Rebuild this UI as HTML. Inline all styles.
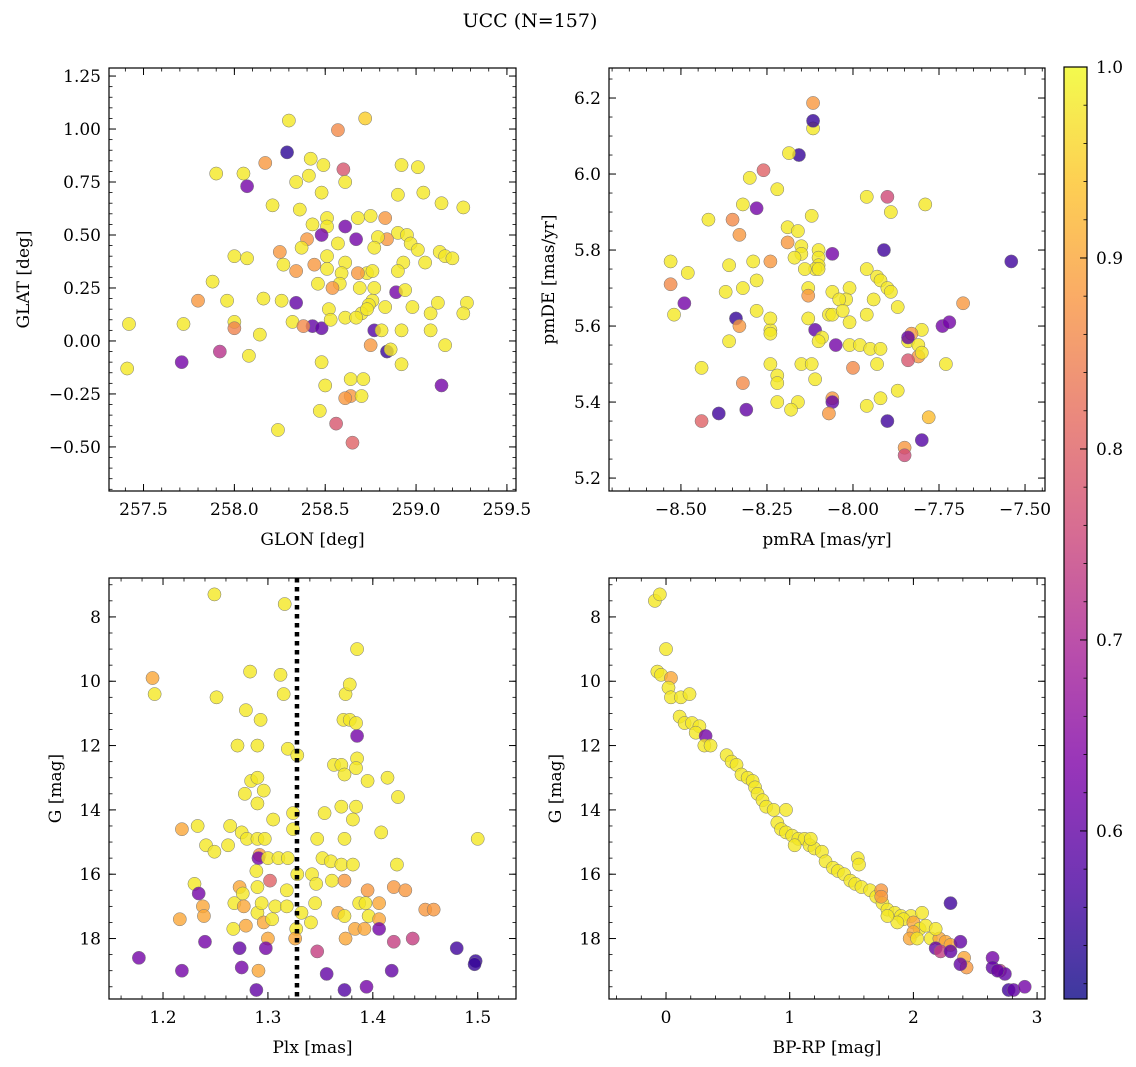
<!DOCTYPE html>
<html><head><meta charset="utf-8">
<style>
html,body{margin:0;padding:0;background:#fff;}
svg{display:block;font-family:"DejaVu Serif","Liberation Serif",serif;}
</style></head>
<body>
<svg id="fig" width="1136" height="1067" xmlns="http://www.w3.org/2000/svg">
<text x="530" y="27" text-anchor="middle" font-size="19">UCC (N=157)</text>
<defs>
<linearGradient id="plasma" x1="0" y1="1" x2="0" y2="0">
<stop offset="0" stop-color="#0d0887"/><stop offset="0.125" stop-color="#4c02a1"/><stop offset="0.25" stop-color="#7e03a8"/><stop offset="0.375" stop-color="#a82296"/><stop offset="0.5" stop-color="#cc4778"/><stop offset="0.625" stop-color="#e56b5d"/><stop offset="0.75" stop-color="#f89540"/><stop offset="0.875" stop-color="#fdc328"/><stop offset="1" stop-color="#f0f921"/>
</linearGradient>
</defs>
</svg>
<script>
// ---------- Panel 1: GLON / GLAT ----------
const p1Lon=[258.30,258.57,258.72,258.29,257.90,258.05,258.07,258.17,258.34,258.41,258.42,258.49,258.60,258.48,258.61,258.92,259.01,258.21,258.36,258.51,258.43,258.51,258.61,258.68,258.75,258.83,258.90,259.04,259.14,259.26,258.90,258.95,258.97,259.01,258.84,258.79,258.77,258.67,258.57,258.48,258.40,258.37,258.51,258.51,258.61,258.59,258.44,258.27,258.25,258.00,258.07,258.34,259.05,259.13,259.16,259.20,258.93,258.90,258.73,258.76,258.68,258.58,258.54,258.46,257.88,257.96,258.16,258.26,258.34,258.69,258.77,258.76,258.74,258.70,258.83,258.89,258.94,258.98,259.08,259.12,259.28,259.26,257.42,257.72,257.80,258.00,258.00,258.14,258.32,258.43,258.48,258.38,258.52,258.53,258.61,258.67,258.73,258.77,258.81,258.92,259.08,259.16,258.75,258.84,258.86,257.71,257.92,258.08,257.41,258.48,258.50,258.64,258.71,258.92,259.14,258.64,258.61,258.70,258.47,258.56,258.24,258.65];
const p1Lat=[1.04,0.995,1.05,0.89,0.79,0.79,0.73,0.84,0.75,0.78,0.86,0.83,0.81,0.70,0.75,0.83,0.82,0.64,0.62,0.58,0.55,0.54,0.54,0.58,0.59,0.58,0.69,0.70,0.65,0.63,0.51,0.50,0.46,0.43,0.48,0.49,0.44,0.48,0.46,0.50,0.48,0.44,0.40,0.34,0.37,0.32,0.36,0.36,0.42,0.40,0.39,0.33,0.37,0.42,0.40,0.39,0.37,0.33,0.32,0.33,0.32,0.27,0.25,0.27,0.28,0.19,0.20,0.19,0.18,0.25,0.25,0.19,0.17,0.13,0.16,0.23,0.24,0.16,0.13,0.18,0.18,0.13,0.08,0.08,0.19,0.09,0.06,0.03,0.09,0.07,0.06,0.07,0.15,0.10,0.11,0.11,0.15,0.05,0.05,0.05,0.05,-0.02,-0.02,-0.05,-0.04,-0.10,-0.05,-0.07,-0.13,-0.10,-0.21,-0.18,-0.18,-0.11,-0.21,-0.26,-0.27,-0.26,-0.33,-0.39,-0.42,-0.48];
const p1Prob=[0.98,0.86,0.95,0.54,0.98,0.98,0.62,0.88,0.98,0.98,0.98,0.98,0.78,0.98,0.98,0.98,0.98,0.98,0.98,0.98,0.98,0.98,0.62,0.98,0.98,0.88,0.98,0.98,0.98,0.98,0.98,0.98,0.98,0.98,0.88,0.98,0.98,0.62,0.98,0.62,0.88,0.98,0.98,0.98,0.98,0.98,0.88,0.98,0.88,0.98,0.98,0.88,0.98,0.98,0.98,0.98,0.98,0.98,0.98,0.98,0.88,0.98,0.88,0.98,0.98,0.98,0.98,0.98,0.6,0.98,0.98,0.98,0.98,0.98,0.98,0.62,0.98,0.98,0.98,0.98,0.98,0.98,0.98,0.98,0.88,0.98,0.85,0.98,0.98,0.6,0.6,0.86,0.98,0.98,0.98,0.98,0.98,0.58,0.98,0.98,0.98,0.98,0.88,0.55,0.98,0.62,0.72,0.98,0.98,0.98,0.98,0.98,0.98,0.98,0.62,0.88,0.88,0.98,0.98,0.78,0.98,0.8];
// ---------- Panel 2: pmRA / pmDE ----------
const p2RA=[-8.116,-8.116,-8.116,-8.157,-8.186,-8.26,-8.30,-8.28,-8.32,-8.22,-7.96,-7.90,-7.89,-7.79,-8.42,-8.35,-8.12,-8.19,-8.16,-8.33,-8.19,-8.15,-8.15,-8.10,-8.10,-8.06,-8.10,-8.11,-8.10,-8.14,-8.24,-8.17,-7.91,-8.29,-8.36,-8.48,-8.53,-8.53,-8.32,-8.28,-8.13,-8.06,-8.01,-7.96,-7.93,-7.92,-7.90,-7.89,-7.68,-8.02,-8.04,-8.13,-8.37,-8.28,-8.49,-8.52,-8.34,-8.33,-8.24,-8.24,-8.13,-8.11,-8.09,-8.10,-8.07,-8.06,-8.03,-8.01,-7.96,-7.94,-7.87,-7.84,-7.80,-7.83,-7.81,-7.81,-7.84,-7.80,-7.84,-7.74,-7.72,-7.73,-7.54,-8.36,-8.24,-8.24,-8.22,-8.22,-8.15,-8.12,-8.11,-8.05,-8.01,-7.98,-8.00,-7.95,-7.92,-7.93,-8.44,-8.32,-8.22,-8.16,-8.18,-8.06,-8.06,-8.07,-7.96,-7.92,-7.87,-7.78,-7.90,-8.31,-8.39,-8.44,-7.85,-7.85,-7.80];
const p2DE=[6.187,6.12,6.14,6.05,6.055,6.01,5.99,5.91,5.92,5.96,5.94,5.94,5.90,5.92,5.88,5.88,5.89,5.86,5.85,5.84,5.82,5.81,5.79,5.80,5.78,5.79,5.76,5.75,5.75,5.75,5.77,5.78,5.80,5.77,5.76,5.74,5.77,5.71,5.70,5.72,5.70,5.69,5.70,5.75,5.73,5.72,5.70,5.69,5.66,5.67,5.67,5.68,5.69,5.64,5.66,5.63,5.62,5.60,5.59,5.62,5.62,5.59,5.57,5.56,5.63,5.63,5.64,5.61,5.63,5.67,5.65,5.56,5.59,5.58,5.55,5.52,5.51,5.53,5.57,5.60,5.61,5.50,5.77,5.56,5.58,5.50,5.47,5.45,5.50,5.50,5.46,5.55,5.55,5.55,5.49,5.54,5.54,5.50,5.49,5.45,5.40,5.40,5.38,5.41,5.40,5.37,5.39,5.41,5.43,5.36,5.35,5.38,5.37,5.35,5.28,5.26,5.30];
const p2Prob=[0.88,0.98,0.55,0.55,0.98,0.8,0.98,0.62,0.98,0.98,0.98,0.76,0.98,0.98,0.98,0.86,0.98,0.98,0.98,0.88,0.88,0.98,0.98,0.98,0.98,0.62,0.98,0.98,0.98,0.98,0.88,0.98,0.56,0.98,0.98,0.98,0.98,0.86,0.98,0.98,0.98,0.98,0.98,0.98,0.98,0.98,0.98,0.98,0.88,0.98,0.98,0.88,0.98,0.98,0.62,0.98,0.55,0.88,0.98,0.98,0.98,0.6,0.98,0.98,0.98,0.98,0.98,0.98,0.98,0.98,0.98,0.98,0.98,0.88,0.98,0.88,0.78,0.98,0.6,0.62,0.62,0.98,0.56,0.98,0.98,0.98,0.98,0.98,0.98,0.98,0.98,0.62,0.98,0.98,0.86,0.98,0.98,0.98,0.98,0.86,0.98,0.98,0.98,0.88,0.6,0.88,0.98,0.98,0.98,0.93,0.56,0.6,0.56,0.8,0.88,0.76,0.58];
// ---------- Panel 3: Plx / G ----------
const p3Plx=[1.249,1.316,1.385,1.190,1.192,1.251,1.283,1.312,1.315,1.374,1.378,1.279,1.293,1.372,1.378,1.385,1.384,1.271,1.290,1.319,1.328,1.363,1.370,1.385,1.384,1.414,1.395,1.373,1.284,1.290,1.296,1.278,1.305,1.290,1.324,1.370,1.384,1.354,1.381,1.424,1.264,1.218,1.233,1.275,1.280,1.290,1.297,1.324,1.347,1.373,1.408,1.500,1.241,1.249,1.262,1.292,1.291,1.300,1.310,1.319,1.352,1.360,1.370,1.381,1.423,1.289,1.302,1.328,1.342,1.361,1.373,1.346,1.230,1.290,1.273,1.318,1.395,1.420,1.431,1.234,1.276,1.238,1.239,1.268,1.277,1.290,1.294,1.307,1.318,1.332,1.345,1.367,1.387,1.393,1.396,1.406,1.406,1.216,1.267,1.279,1.296,1.304,1.327,1.326,1.341,1.373,1.383,1.392,1.374,1.300,1.240,1.273,1.298,1.347,1.406,1.420,1.438,1.450,1.458,1.480,1.498,1.497,1.177,1.218,1.275,1.291,1.356,1.418,1.289,1.373,1.394];
const p3G=[7.3,7.6,9.0,9.9,10.4,10.5,9.7,9.8,10.4,10.4,10.1,10.9,11.2,11.2,11.2,11.7,11.3,12.0,12.0,12.1,12.3,12.6,12.6,12.4,12.7,13.0,13.1,12.9,13.1,13.0,13.4,13.5,14.3,13.8,14.1,13.9,13.9,14.1,14.3,13.6,14.5,14.6,14.5,14.7,14.9,14.9,14.9,14.6,14.9,14.9,14.7,14.9,15.1,15.3,15.1,15.4,15.5,15.5,15.5,15.5,15.5,15.6,15.7,15.7,15.7,15.9,16.2,16.0,16.0,16.2,16.2,16.3,16.3,16.4,16.4,16.5,16.5,16.4,16.5,16.6,16.6,17.0,17.3,16.9,17.0,17.2,16.9,17.0,17.0,17.2,16.9,17.2,16.9,16.9,17.3,16.9,17.4,17.4,17.7,17.6,17.5,17.4,17.7,18.0,17.5,17.3,17.7,17.7,18.0,18.0,18.1,18.3,18.3,18.4,17.7,18.1,18.0,17.1,17.1,18.3,18.7,18.8,18.6,19.0,18.9,19.0,19.1,19.0,19.6,19.6,19.5];
const p3Prob=[0.98,0.98,0.98,0.9,0.98,0.98,0.98,0.98,0.98,0.98,0.98,0.98,0.98,0.98,0.98,0.62,0.98,0.98,0.98,0.98,0.98,0.98,0.98,0.98,0.98,0.98,0.98,0.98,0.98,0.98,0.98,0.98,0.98,0.98,0.98,0.98,0.98,0.98,0.98,0.98,0.98,0.9,0.98,0.98,0.98,0.98,0.98,0.98,0.98,0.98,0.98,0.98,0.98,0.98,0.98,0.88,0.62,0.98,0.98,0.98,0.98,0.98,0.98,0.98,0.98,0.98,0.8,0.98,0.98,0.98,0.88,0.98,0.98,0.98,0.9,0.98,0.88,0.88,0.88,0.62,0.98,0.9,0.9,0.98,0.9,0.98,0.98,0.98,0.98,0.98,0.98,0.9,0.98,0.98,0.98,0.9,0.9,0.9,0.98,0.9,0.9,0.98,0.98,0.9,0.98,0.98,0.9,0.9,0.9,0.9,0.62,0.6,0.62,0.74,0.62,0.74,0.74,0.88,0.88,0.56,0.55,0.55,0.62,0.62,0.62,0.9,0.6,0.6,0.6,0.58,0.62];
// ---------- Panel 4: BP-RP / G ----------
const p4Col=[-0.09,-0.05,0.00,-0.07,-0.04,0.04,0.02,0.04,0.12,0.19,0.11,0.15,0.21,0.27,0.24,0.32,0.31,0.36,0.49,0.53,0.57,0.61,0.66,0.70,0.72,0.74,0.78,0.81,0.87,0.97,0.90,0.93,0.97,1.02,1.07,1.12,1.04,1.16,1.20,1.26,1.17,1.29,1.35,1.39,1.44,1.49,1.53,1.58,1.55,1.56,1.65,1.70,1.75,1.74,1.74,1.79,1.85,1.90,1.98,2.07,1.92,2.00,2.05,2.00,1.97,2.03,2.14,2.21,2.26,2.30,2.18,2.22,2.30,2.38,2.41,2.43,2.38,2.30,2.64,2.64,2.70,2.74,2.77,2.81,2.90,2.68,2.10,2.18,1.87,1.79];
const p4G=[7.5,7.3,9.0,9.7,9.8,9.9,10.2,10.5,10.5,10.4,11.1,11.3,11.3,11.4,11.6,11.7,12.0,12.0,12.3,12.5,12.6,12.9,13.0,13.1,13.3,13.5,13.7,13.9,14.0,14.0,14.4,14.6,14.7,14.8,14.9,14.9,15.1,15.1,15.2,15.3,14.9,15.6,15.8,15.9,16.0,16.2,16.3,16.4,15.5,15.7,16.5,16.7,16.9,16.5,16.7,17.1,17.2,17.3,17.3,17.2,17.4,17.5,17.7,17.8,18.0,18.0,18.0,18.0,18.1,18.2,18.3,18.4,18.4,18.1,18.6,18.9,18.8,16.9,18.6,18.9,19.0,19.1,19.6,19.6,19.5,19.0,17.6,17.7,17.5,17.3];
const p4Prob=[0.98,0.98,0.98,0.98,0.98,0.9,0.98,0.98,0.98,0.98,0.98,0.98,0.98,0.98,0.98,0.62,0.98,0.98,0.98,0.98,0.98,0.98,0.98,0.98,0.98,0.98,0.98,0.98,0.98,0.98,0.98,0.98,0.98,0.98,0.98,0.98,0.98,0.98,0.98,0.98,0.98,0.98,0.98,0.98,0.98,0.98,0.98,0.98,0.98,0.98,0.98,0.98,0.98,0.88,0.88,0.98,0.98,0.98,0.98,0.98,0.98,0.9,0.98,0.9,0.9,0.98,0.98,0.9,0.9,0.9,0.6,0.74,0.6,0.6,0.9,0.88,0.6,0.56,0.62,0.6,0.74,0.6,0.56,0.6,0.62,0.6,0.98,0.98,0.98,0.98];
// tick label arrays
const p1XTicks=[257.5,258.0,258.5,259.0,259.5];
const p1YTicks=[-0.5,-0.25,0,0.25,0.5,0.75,1.0,1.25];
const p2XTicks=[-8.5,-8.25,-8.0,-7.75,-7.5];
const p2YTicks=[5.2,5.4,5.6,5.8,6.0,6.2];
const p3XTicks=[1.2,1.3,1.4,1.5];
const gTicks=[8,10,12,14,16,18];
const p4XTicks=[0,1,2,3];
const cbTicks=[0.6,0.7,0.8,0.9,1.0];
const plxLine=[1.3277];

const NS="http://www.w3.org/2000/svg";
const svg=document.getElementById('fig');
function mk(tag,attrs,parent){const e=document.createElementNS(NS,tag);for(const k in attrs)e.setAttribute(k,attrs[k]);(parent||svg).appendChild(e);return e;}
const stops=[[0,[13,8,135]],[0.125,[76,2,161]],[0.25,[126,3,168]],[0.375,[168,34,150]],[0.5,[204,71,120]],[0.625,[229,107,93]],[0.75,[248,149,64]],[0.875,[253,195,40]],[1,[240,249,33]]];
const PMIN=0.512,PMAX=1.0;
function plasma(p){let t=(p-PMIN)/(PMAX-PMIN);t=Math.max(0,Math.min(1,t));for(let i=1;i<stops.length;i++){if(t<=stops[i][0]){const a=stops[i-1],b=stops[i];const f=(t-a[0])/(b[0]-a[0]);const c=a[1].map((v,j)=>Math.round(v+(b[1][j]-v)*f));return `rgb(${c[0]},${c[1]},${c[2]})`;}}return 'rgb(240,249,33)';}
function fmt(v,d){let s=v.toFixed(d);return s.replace('-','\u2212');}

function panel(o){
  const g=mk('g',{});
  
  
  const sx=v=>o.x0+(v-o.xmin)/(o.xmax-o.xmin)*(o.x1-o.x0);
  const sy=v=>o.y1-(v-o.ymin)/(o.ymax-o.ymin)*(o.y1-o.y0);
  const clipId='clip'+o.name;
  const cp=mk('clipPath',{id:clipId},g);mk('rect',{x:o.x0,y:o.y0,width:o.x1-o.x0,height:o.y1-o.y0},cp);
  const pts=mk('g',{'clip-path':`url(#${clipId})`},g);
  
  
  for(let i=0;i<o.xs.length;i++){
    const c=mk('circle',{cx:sx(o.xs[i]),cy:sy(o.ys[i]),r:6.6,fill:plasma(o.ps[i]),'fill-opacity':0.8,stroke:'#777','stroke-width':0.5},pts);
    
    
  }
  if(o.vline){const l=mk('line',{x1:sx(o.vline),x2:sx(o.vline),y1:o.y0,y2:o.y1,stroke:'#000','stroke-width':4.5,'stroke-dasharray':'4.5,4.5'},g);
    
    }
  mk('rect',{x:o.x0,y:o.y0,width:o.x1-o.x0,height:o.y1-o.y0,fill:'none',stroke:'#000','stroke-width':1.2},g);
  const eps=1e-9;
  for(let v=Math.ceil(o.xmin/o.xminor)*o.xminor;v<=o.xmax+eps;v+=o.xminor){const x=sx(v);mk('line',{x1:x,x2:x,y1:o.y1,y2:o.y1-3.5,stroke:'#000','stroke-width':0.8},g);mk('line',{x1:x,x2:x,y1:o.y0,y2:o.y0+3.5,stroke:'#000','stroke-width':0.8},g);}
  for(let v=Math.ceil(o.ymin/o.yminor)*o.yminor;v<=o.ymax+eps;v+=o.yminor){const y=sy(v);mk('line',{x1:o.x0,x2:o.x0+3.5,y1:y,y2:y,stroke:'#000','stroke-width':0.8},g);mk('line',{x1:o.x1,x2:o.x1-3.5,y1:y,y2:y,stroke:'#000','stroke-width':0.8},g);}
  o.xt.forEach(v=>{const x=sx(v);mk('line',{x1:x,x2:x,y1:o.y1,y2:o.y1-7,stroke:'#000','stroke-width':1},g);mk('line',{x1:x,x2:x,y1:o.y0,y2:o.y0+7,stroke:'#000','stroke-width':1},g);
    const t=mk('text',{x:x,y:o.y1+24,'text-anchor':'middle','font-size':17},g);t.textContent=fmt(v,o.xd);
    
    });
  o.yt.forEach(v=>{const y=sy(v);mk('line',{x1:o.x0,x2:o.x0+7,y1:y,y2:y,stroke:'#000','stroke-width':1},g);mk('line',{x1:o.x1,x2:o.x1-7,y1:y,y2:y,stroke:'#000','stroke-width':1},g);
    const t=mk('text',{x:o.x0-8,y:y+6,'text-anchor':'end','font-size':17},g);t.textContent=o.invY?fmt(-v,o.yd):fmt(v,o.yd);
    
    });
  const xl=mk('text',{x:(o.x0+o.x1)/2,y:o.y1+54,'text-anchor':'middle','font-size':17},g);xl.textContent=o.xlabel;
  
  
  const yx=o.x0-o.yoff, yy=(o.y0+o.y1)/2;
  const yl=mk('text',{x:yx,y:yy,'text-anchor':'middle','font-size':17,transform:`rotate(-90 ${yx} ${yy})`},g);yl.textContent=o.ylabel;
  
  
}
panel({name:'glon-glat-panel',x0:109,x1:516,y0:68,y1:491,xmin:257.31,xmax:259.55,ymin:-0.708,ymax:1.288,xs:p1Lon,ys:p1Lat,ps:p1Prob,xt:p1XTicks,yt:p1YTicks,xd:1,yd:2,xminor:0.1,yminor:0.05,xlabel:'GLON [deg]',ylabel:'GLAT [deg]',yoff:80});
panel({name:'pm-panel',x0:609,x1:1045,y0:68,y1:491,xmin:-8.709,xmax:-7.442,ymin:5.166,ymax:6.279,xs:p2RA,ys:p2DE,ps:p2Prob,xt:p2XTicks,yt:p2YTicks,xd:2,yd:1,xminor:0.05,yminor:0.05,xlabel:'pmRA [mas/yr]',ylabel:'pmDE [mas/yr]',yoff:55});
panel({name:'plx-g-panel',x0:109,x1:516,y0:578,y1:999,xmin:1.1485,xmax:1.5365,ymin:-19.88,ymax:-6.79,xs:p3Plx,ys:p3G.map(v=>-v),ps:p3Prob,xt:p3XTicks,yt:gTicks.map(v=>-v),invY:true,xd:1,yd:0,xminor:0.02,yminor:0.5,xlabel:'Plx [mas]',ylabel:'G [mag]',yoff:48,vline:plxLine[0]});
panel({name:'cmd-panel',x0:609,x1:1045,y0:578,y1:999,xmin:-0.461,xmax:3.064,ymin:-19.88,ymax:-6.79,xs:p4Col,ys:p4G.map(v=>-v),ps:p4Prob,xt:p4XTicks,yt:gTicks.map(v=>-v),invY:true,xd:0,yd:0,xminor:0.2,yminor:0.5,xlabel:'BP-RP [mag]',ylabel:'G [mag]',yoff:48});
// colorbar
const cb=mk('g',{});


const cbx0=1064,cbx1=1087,cby0=67,cby1=999;
const cy=v=>cby1-(v-PMIN)/(PMAX-PMIN)*(cby1-cby0);
mk('rect',{x:cbx0,y:cby0,width:cbx1-cbx0,height:cby1-cby0,fill:'url(#plasma)','fill-opacity':0.8},cb);
mk('rect',{x:cbx0,y:cby0,width:cbx1-cbx0,height:cby1-cby0,fill:'none',stroke:'#000','stroke-width':1.2},cb);
for(let v=0.52;v<=1.0001;v+=0.02){const y=cy(v);mk('line',{x1:cbx1,x2:cbx1-3.5,y1:y,y2:y,stroke:'#000','stroke-width':0.8},cb);}
cbTicks.forEach(v=>{const y=cy(v);mk('line',{x1:cbx1,x2:cbx1-7,y1:y,y2:y,stroke:'#000','stroke-width':1},cb);
  const t=mk('text',{x:cbx1+9,y:y+6,'font-size':17},cb);t.textContent=v.toFixed(1);
  
  });
</script>
</body></html>
